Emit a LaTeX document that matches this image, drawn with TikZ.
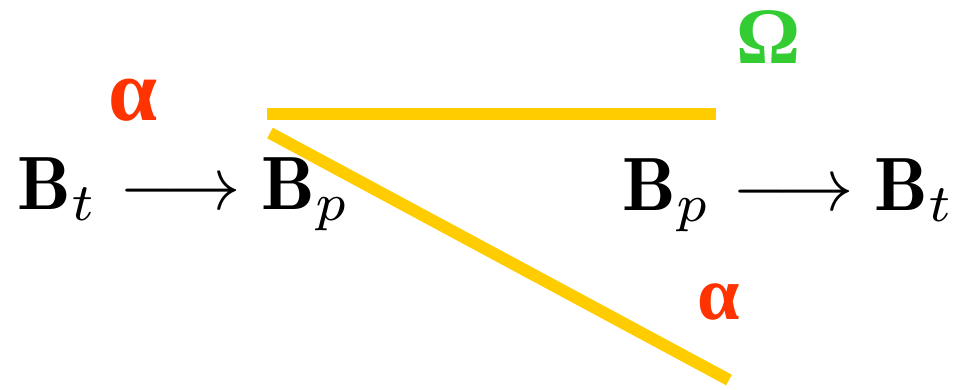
\documentclass[tikz,border=0pt]{standalone}
\usepackage{fontspec}
\newfontfamily\gk{Liberation Serif}
\definecolor{ored}{HTML}{FF3300}
\definecolor{ogreen}{HTML}{33CC33}
\definecolor{oyellow}{HTML}{FFCC00}
\tikzset{
  bar/.style={draw=oyellow,line width=12pt,line cap=butt},
  mathlbl/.style={inner sep=0pt,anchor=base,scale=7.55},
  greek/.style={inner sep=0pt,anchor=base,font=\gk\bfseries\fontsize{#1}{#1}\selectfont},
}
\begin{document}
\begin{tikzpicture}[x=1pt,y=-1pt]
\useasboundingbox (0,0) rectangle (958,389);
\coordinate (h1) at (267,114);
\coordinate (h2) at (716,114);
\coordinate (d1) at (270,133);
\coordinate (d2) at (729,380);
\draw[bar] (h1) -- (h2);
\draw[bar] (d1) -- (d2);
\node[mathlbl] (left) at (184,209) {$\mathbf{B}_t \longrightarrow \mathbf{B}_p$};
\node[mathlbl] (right) at (789,210) {$\mathbf{B}_p \longrightarrow \mathbf{B}_t$};
\node[greek=88,text=ored] (a1) at (133,120) {α};
\node[greek=76,text=ored] (a2) at (719,319) {α};
\node[greek=80,text=ogreen] (om) at (769,63) {Ω};
\end{tikzpicture}
\end{document}
